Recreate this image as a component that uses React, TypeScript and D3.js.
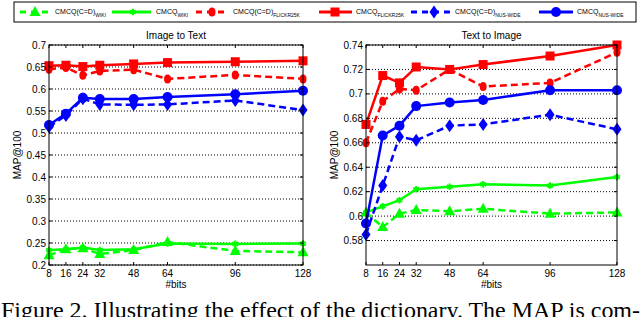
import React from 'react';
import * as d3 from 'd3';

// #bits on the x axis
const bits = [8, 16, 24, 32, 48, 64, 96, 128];

// Image to Text
const i2tWikiCD = [0.222, 0.236, 0.238, 0.225, 0.234, 0.252, 0.232, 0.229];
const i2tWiki = [0.234, 0.236, 0.240, 0.234, 0.236, 0.249, 0.248, 0.249];
const i2tFlickrCD = [0.645, 0.649, 0.631, 0.641, 0.644, 0.623, 0.632, 0.623];
const i2tFlickr = [0.653, 0.654, 0.651, 0.654, 0.657, 0.660, 0.662, 0.664];
const i2tNusCD = [0.514, 0.540, 0.578, 0.565, 0.564, 0.565, 0.574, 0.552];
const i2tNus = [0.518, 0.544, 0.580, 0.577, 0.577, 0.582, 0.588, 0.596];

// Text to Image
const t2iWikiCD = [0.603, 0.591, 0.602, 0.605, 0.604, 0.606, 0.602, 0.603];
const t2iWiki = [0.603, 0.608, 0.613, 0.622, 0.624, 0.626, 0.625, 0.632];
const t2iFlickrCD = [0.660, 0.694, 0.704, 0.703, 0.720, 0.706, 0.709, 0.734];
const t2iFlickr = [0.675, 0.715, 0.709, 0.722, 0.720, 0.724, 0.731, 0.740];
const t2iNusCD = [0.585, 0.625, 0.665, 0.662, 0.674, 0.675, 0.683, 0.671];
const t2iNus = [0.594, 0.666, 0.674, 0.690, 0.693, 0.695, 0.703, 0.703];

const i2tTicks = [0.2, 0.25, 0.3, 0.35, 0.4, 0.45, 0.5, 0.55, 0.6, 0.65, 0.7];
const t2iTicks = [0.58, 0.6, 0.62, 0.64, 0.66, 0.68, 0.7, 0.72, 0.74];

const seriesNames = ['CMCQ(C=D)', 'CMCQ', 'CMCQ(C=D)', 'CMCQ', 'CMCQ(C=D)', 'CMCQ'];
const seriesSubs = ['WIKI', 'WIKI', 'FLICKR25K', 'FLICKR25K', 'NUS-WIDE', 'NUS-WIDE'];
const seriesColors = ['#00ff00', '#00ff00', '#ff0000', '#ff0000', '#0000ff', '#0000ff'];
const seriesDashed = [true, false, true, false, true, false];
const seriesMarkers = ['triangle', 'star', 'circle', 'square', 'diamond', 'bigcircle'];

const font = 'Liberation Sans, Arial, sans-serif';

const Marker = ({ kind, x, y, color }) => {
    if (kind === 'triangle') {
        return <path d={`M${x},${y - 6}L${x + 5.5},${y + 4}L${x - 5.5},${y + 4}Z`} fill={color} />;
    }
    if (kind === 'star') {
        const p = d3.symbol(d3.symbolAsterisk, 30)();
        return <path d={p} transform={`translate(${x},${y})`} stroke={color} strokeWidth={2} fill="none" />;
    }
    if (kind === 'circle') {
        return <ellipse cx={x} cy={y} rx={3.5} ry={4.5} fill={color} />;
    }
    if (kind === 'square') {
        return <rect x={x - 4.5} y={y - 4.5} width={9} height={9} fill={color} />;
    }
    if (kind === 'diamond') {
        return <path d={`M${x},${y - 6.5}L${x + 4.5},${y}L${x},${y + 6.5}L${x - 4.5},${y}Z`} fill={color} />;
    }
    return <circle cx={x} cy={y} r={5} fill={color} />;
};

const Panel = ({ left, right, top, bottom, yDomain, yTicks, yFmt, title, series }) => {
    const x = d3.scaleLinear().domain([8, 128]).range([left, right]);
    const y = d3.scaleLinear().domain(yDomain).range([bottom, top]);
    const line = d3.line().x((d) => x(d[0])).y((d) => y(d[1]));

    return (
        <g>
            {/* grid */}
            {yTicks.map((t) => (
                <line key={'g' + t} x1={left} x2={right} y1={y(t)} y2={y(t)}
                    stroke="#000" strokeWidth={1} strokeDasharray="1,2" />
            ))}
            {/* series */}
            {series.map((vals, i) => {
                const pts = bits.map((b, j) => [b, vals[j]]);
                return (
                    <g key={'s' + i}>
                        <path d={line(pts)} fill="none" stroke={seriesColors[i]} strokeWidth={2.5}
                            strokeDasharray={seriesDashed[i] ? '7,4' : null} />
                        {pts.map((p, j) => (
                            <Marker key={j} kind={seriesMarkers[i]} x={x(p[0])} y={y(p[1])} color={seriesColors[i]} />
                        ))}
                    </g>
                );
            })}
            {/* box */}
            <rect x={left} y={top} width={right - left} height={bottom - top} fill="none" stroke="#000" strokeWidth={1} />
            {/* x ticks */}
            {bits.map((b) => (
                <g key={'x' + b}>
                    <line x1={x(b)} x2={x(b)} y1={bottom} y2={bottom - 3} stroke="#000" />
                    <line x1={x(b)} x2={x(b)} y1={top} y2={top + 3} stroke="#000" />
                    <text x={x(b)} y={bottom + 12} textAnchor="middle" fontSize={10} fontFamily={font}>{b}</text>
                </g>
            ))}
            {/* y ticks */}
            {yTicks.map((t) => (
                <g key={'y' + t}>
                    <line x1={left} x2={left + 3} y1={y(t)} y2={y(t)} stroke="#000" />
                    <line x1={right} x2={right - 3} y1={y(t)} y2={y(t)} stroke="#000" />
                    <text x={left - 3} y={y(t) + 3.5} textAnchor="end" fontSize={10} fontFamily={font}>{yFmt(t)}</text>
                </g>
            ))}
            <text x={(left + right) / 2} y={top - 6} textAnchor="middle" fontSize={10} fontFamily={font}>{title}</text>
            <text x={(left + right) / 2} y={bottom + 23} textAnchor="middle" fontSize={10} fontFamily={font}>#bits</text>
            <text transform={`translate(${left - 28},${(top + bottom) / 2}) rotate(-90)`} textAnchor="middle"
                fontSize={10} fontFamily={font}>MAP@100</text>
        </g>
    );
};

const legendPos = [
    { x0: 20, x1: 50, m: 35, t: 55 },
    { x0: 112, x1: 151, m: 133, t: 156 },
    { x0: 196, x1: 227, m: 212, t: 233 },
    { x0: 319, x1: 352, m: 335, t: 356 },
    { x0: 411, x1: 450, m: 434, t: 455 },
    { x0: 539, x1: 573, m: 556, t: 577 },
];

export default function App() {
    const fmt = (t) => String(+t.toFixed(2));
    return (
        <svg width={640} height={317} style={{ position: 'absolute', left: 0, top: 0, background: '#fff' }}>
            <rect x={0} y={0} width={640} height={317} fill="#fff" />
            {/* legend */}
            <rect x={14} y={2} width={622} height={20} fill="#fff" stroke="#000" strokeWidth={1} />
            {legendPos.map((p, i) => (
                <g key={'l' + i}>
                    <line x1={p.x0} x2={p.x1} y1={12} y2={12} stroke={seriesColors[i]} strokeWidth={3}
                        strokeDasharray={seriesDashed[i] ? '6,5' : null} />
                    <Marker kind={seriesMarkers[i]} x={p.m} y={12} color={seriesColors[i]} />
                    <text x={p.t} y={14} fontSize={7} fontFamily={font}>
                        {seriesNames[i]}
                        <tspan dy={2.5} fontSize={5}>{seriesSubs[i]}</tspan>
                    </text>
                </g>
            ))}
            <Panel left={49} right={303} top={45} bottom={265} yDomain={[0.2, 0.7]} yTicks={i2tTicks} yFmt={fmt}
                title="Image to Text" series={[i2tWikiCD, i2tWiki, i2tFlickrCD, i2tFlickr, i2tNusCD, i2tNus]} />
            <Panel left={366} right={617} top={45} bottom={265} yDomain={[0.56, 0.74]} yTicks={t2iTicks} yFmt={fmt}
                title="Text to Image" series={[t2iWikiCD, t2iWiki, t2iFlickrCD, t2iFlickr, t2iNusCD, t2iNus]} />
            <text x={1} y={318} fontSize={24} fontFamily="Liberation Serif, Times New Roman, serif"
                textLength={639} lengthAdjust="spacingAndGlyphs">
                Figure 2. Illustrating the effect of the dictionary. The MAP is com-
            </text>
        </svg>
    );
}
